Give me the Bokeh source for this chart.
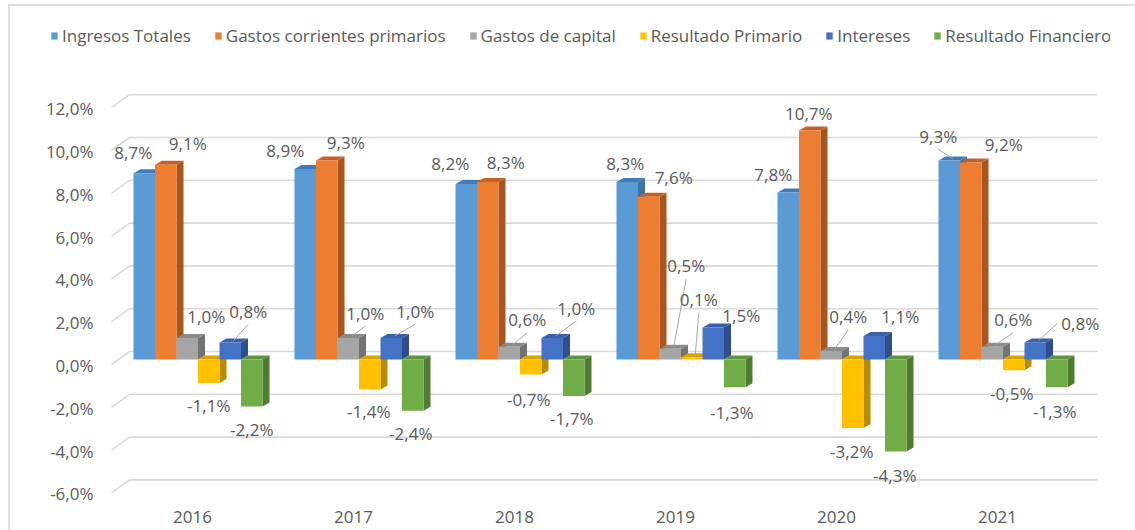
from bokeh.plotting import figure
from bokeh.models import (Range1d, LinearAxis, FixedTicker, ColumnDataSource,
                          Legend, LegendItem, InlineStyleSheet)
from bokeh.embed import file_html
from bokeh.resources import INLINE
from bokeh.core.properties import value

# ---------------- data ----------------
YEARS = ["2016", "2017", "2018", "2019", "2020", "2021"]
SERIES = ["Ingresos Totales", "Gastos corrientes primarios", "Gastos de capital",
          "Resultado Primario", "Intereses", "Resultado Financiero"]
INGRESOS_TOTALES = [8.7, 8.9, 8.2, 8.3, 7.8, 9.3]
GASTOS_CORRIENTES = [9.1, 9.3, 8.3, 7.6, 10.7, 9.2]
GASTOS_CAPITAL = [1.0, 1.0, 0.6, 0.5, 0.4, 0.6]
RESULTADO_PRIMARIO = [-1.1, -1.4, -0.7, 0.1, -3.2, -0.5]
INTERESES = [0.8, 1.0, 1.0, 1.5, 1.1, 0.8]
RESULTADO_FINANCIERO = [-2.2, -2.4, -1.7, -1.3, -4.3, -1.3]
Y_TICKS = [-6, -4, -2, 0, 2, 4, 6, 8, 10, 12]
Y_TICK_LABELS = ["-6,0%", "-4,0%", "-2,0%", "0,0%", "2,0%", "4,0%", "6,0%", "8,0%", "10,0%", "12,0%"]

DATA = [INGRESOS_TOTALES, GASTOS_CORRIENTES, GASTOS_CAPITAL,
        RESULTADO_PRIMARIO, INTERESES, RESULTADO_FINANCIERO]

# ---------------- styles ----------------
FRONT = ["#5B9BD5", "#ED7D31", "#A5A5A5", "#FFC000", "#4472C4", "#70AD47"]
SIDE = ["#3E73A6", "#A9561E", "#737373", "#B98B00", "#2E4F8C", "#4E7D31"]
TOP = ["#3F7DBA", "#C8611F", "#8A8A8A", "#D9A300", "#3761AA", "#5E953B"]
TEXT = "#595959"
GRID = "#D9D9D9"
FONT = "Open Sans"
FS = "17px"

# label nudges (px) relative to bar end, per series per year
NUDGE = [
    [(-11, -21), (-20, -19), (-16, -21), (-2, -18), (-15, -18), (-11, -24)],
    [(22, -21), (19, -18), (18, -19), (25, -19), (-1, -17), (33, -18)],
    [(19, -22), (17, -25), (18, -27), (16, -83), (17, -34), (21, -27)],
    [(0, 22), (-1, 22), (-2, 25), (7, -58), (-1, 24), (-2, 23)],
    [(18, -31), (24, -27), (24, -30), (28, -12), (26, -19), (45, -19)],
    [(0, 23), (-2, 23), (-2, 23), (-3, 25), (-1, 24), (-2, 24)],
]
LEADER = [
    [0, 0, 0, 0, 0, 1],
    [0, 0, 0, 0, 0, 0],
    [0, 1, 1, 1, 1, 1],
    [0, 0, 0, 1, 0, 0],
    [1, 1, 1, 0, 0, 1],
    [0, 0, 0, 0, 0, 0],
]

# ---------------- geometry (px) ----------------
W, H = 1135, 530
FL, FR, FT, FB = 10, 1110, 6, 500
PX_X = 161.0
PX_Y = 21.4
X0_PX = 197.5
Y0_PX = 359.0
BAR_PX = 21.5
DEPTH_X, DEPTH_Y = 7.0, 4.0
YLAB_RIGHT = 93      # right edge of the y tick labels

xs = -(X0_PX - FL) / PX_X
xe = xs + (FR - FL) / PX_X
ye = (Y0_PX - FT) / PX_Y
ys = -(FB - Y0_PX) / PX_Y


def dxu(px):
    return px / PX_X


def dyu(px):
    return px / PX_Y


def sx_to_x(sx):
    return xs + (sx - FL) / PX_X


p = figure(width=W, height=H, x_range=Range1d(xs, xe), y_range=Range1d(ys, ye),
           x_axis_type=None, y_axis_type=None, toolbar_location=None,
           output_backend="svg", min_border_left=FL, min_border_right=W - FR,
           min_border_top=FT, min_border_bottom=H - FB)
p.outline_line_color = None
p.background_fill_color = "white"
p.border_fill_color = "white"

# chart-area border (top and left edges, as in the reference)
p.stylesheets = [InlineStyleSheet(css=(
    ":host::after { content: ''; position: absolute; left: 8px; top: 4px;"
    " right: -10px; bottom: -10px; border-left: 2px solid #DEDEDE;"
    " border-top: 2px solid #DEDEDE; pointer-events: none; }"))]

# shifted ranges for the axis labels (labels sit on the front edge of the floor)
p.extra_y_ranges = {"lab": Range1d(ys + dyu(6), ye + dyu(6))}
p.extra_x_ranges = {"labx": Range1d(xs + dxu(5.5), xe + dxu(5.5))}

# ---------- back wall gridlines ----------
back = dyu(8)
front = -dyu(5)
gx0 = [sx_to_x(129)] * len(Y_TICKS)
gx1 = [sx_to_x(1097)] * len(Y_TICKS)
gy = [t + back for t in Y_TICKS]
p.segment(x0=gx0, y0=gy, x1=gx1, y1=gy, line_color=GRID, line_width=1.6)
p.segment(x0=[sx_to_x(111)] * len(Y_TICKS), y0=[t + front for t in Y_TICKS],
          x1=gx0, y1=gy, line_color=GRID, line_width=1.6)

# ---------- bars ----------
ddx, ddy = dxu(DEPTH_X), dyu(DEPTH_Y)
legend_items = []
lab_x, lab_y, lab_t = [], [], []
lx0, ly0, lx1, ly1 = [], [], [], []
for j, vals in enumerate(DATA):
    left = [i + dxu((j - 3) * BAR_PX) for i in range(len(YEARS))]
    right = [l + dxu(BAR_PX) for l in left]
    bottom = [min(0.0, v) for v in vals]
    top = [max(0.0, v) for v in vals]
    side_xs = [[r, r + ddx, r + ddx, r] for r in right]
    side_ys = [[b, b + ddy, t + ddy, t] for b, t in zip(bottom, top)]
    top_xs = [[l, l + ddx, r + ddx, r] for l, r in zip(left, right)]
    top_ys = [[t, t + ddy, t + ddy, t] for t in top]
    p.patches(xs=side_xs, ys=side_ys, fill_color=SIDE[j], line_color=None)
    p.patches(xs=top_xs, ys=top_ys, fill_color=TOP[j], line_color=None)
    r = p.quad(left=left, right=right, bottom=bottom, top=top,
               fill_color=FRONT[j], line_color=None)
    legend_items.append(LegendItem(label=SERIES[j], renderers=[r]))
    for i, v in enumerate(vals):
        cx = (left[i] + right[i]) / 2
        ndx, ndy = NUDGE[j][i]
        tx = cx + dxu(ndx)
        ty = v - dyu(ndy)
        lab_x.append(tx)
        lab_y.append(ty)
        lab_t.append(f"{v:.1f}".replace(".", ",") + "%")
        if LEADER[j][i]:
            if ndx > 35:
                sx0, sy0 = tx - dxu(23), ty
            else:
                sx0, sy0 = tx, ty - dyu(13)
            lx0.append(sx0)
            ly0.append(sy0)
            lx1.append(cx + ddx / 2)
            ly1.append(v + ddy / 2)

p.segment(x0=lx0, y0=ly0, x1=lx1, y1=ly1, line_color="#A6A6A6", line_width=1)

src = ColumnDataSource(dict(x=lab_x, y=lab_y, text=lab_t))
p.text(x="x", y="y", text="text", source=src, text_align="center",
       text_baseline="middle", text_font=value(FONT), text_font_size=FS,
       text_color=TEXT)

# ---------- axes ----------
yaxis = LinearAxis(y_range_name="lab", ticker=FixedTicker(ticks=Y_TICKS),
                   major_label_overrides={t: s for t, s in zip(Y_TICKS, Y_TICK_LABELS)})
xaxis = LinearAxis(x_range_name="labx", ticker=FixedTicker(ticks=list(range(len(YEARS)))),
                   major_label_overrides={i: y for i, y in enumerate(YEARS)})
for ax in (yaxis, xaxis):
    ax.axis_line_color = None
    ax.major_tick_line_color = None
    ax.minor_tick_line_color = None
    ax.major_tick_out = 0
    ax.major_tick_in = 0
    ax.major_label_text_font = FONT
    ax.major_label_text_font_size = FS
    ax.major_label_text_color = TEXT
# y labels are drawn inward so that they sit right of the chart border
yaxis.major_label_standoff = -(YLAB_RIGHT - FL)
xaxis.major_label_standoff = 10
p.add_layout(yaxis, "left")
p.add_layout(xaxis, "below")

# ---------- legend ----------
legend = Legend(items=legend_items, orientation="horizontal",
                location=(50 - FL, FB - 47), glyph_width=8, glyph_height=9,
                label_standoff=4, spacing=23, padding=0, margin=0,
                label_height=20, border_line_color=None,
                background_fill_alpha=0, label_text_font=FONT,
                label_text_font_size=FS, label_text_color=TEXT)
p.add_layout(legend)

open("out.html", "w").write(file_html(p, INLINE))
